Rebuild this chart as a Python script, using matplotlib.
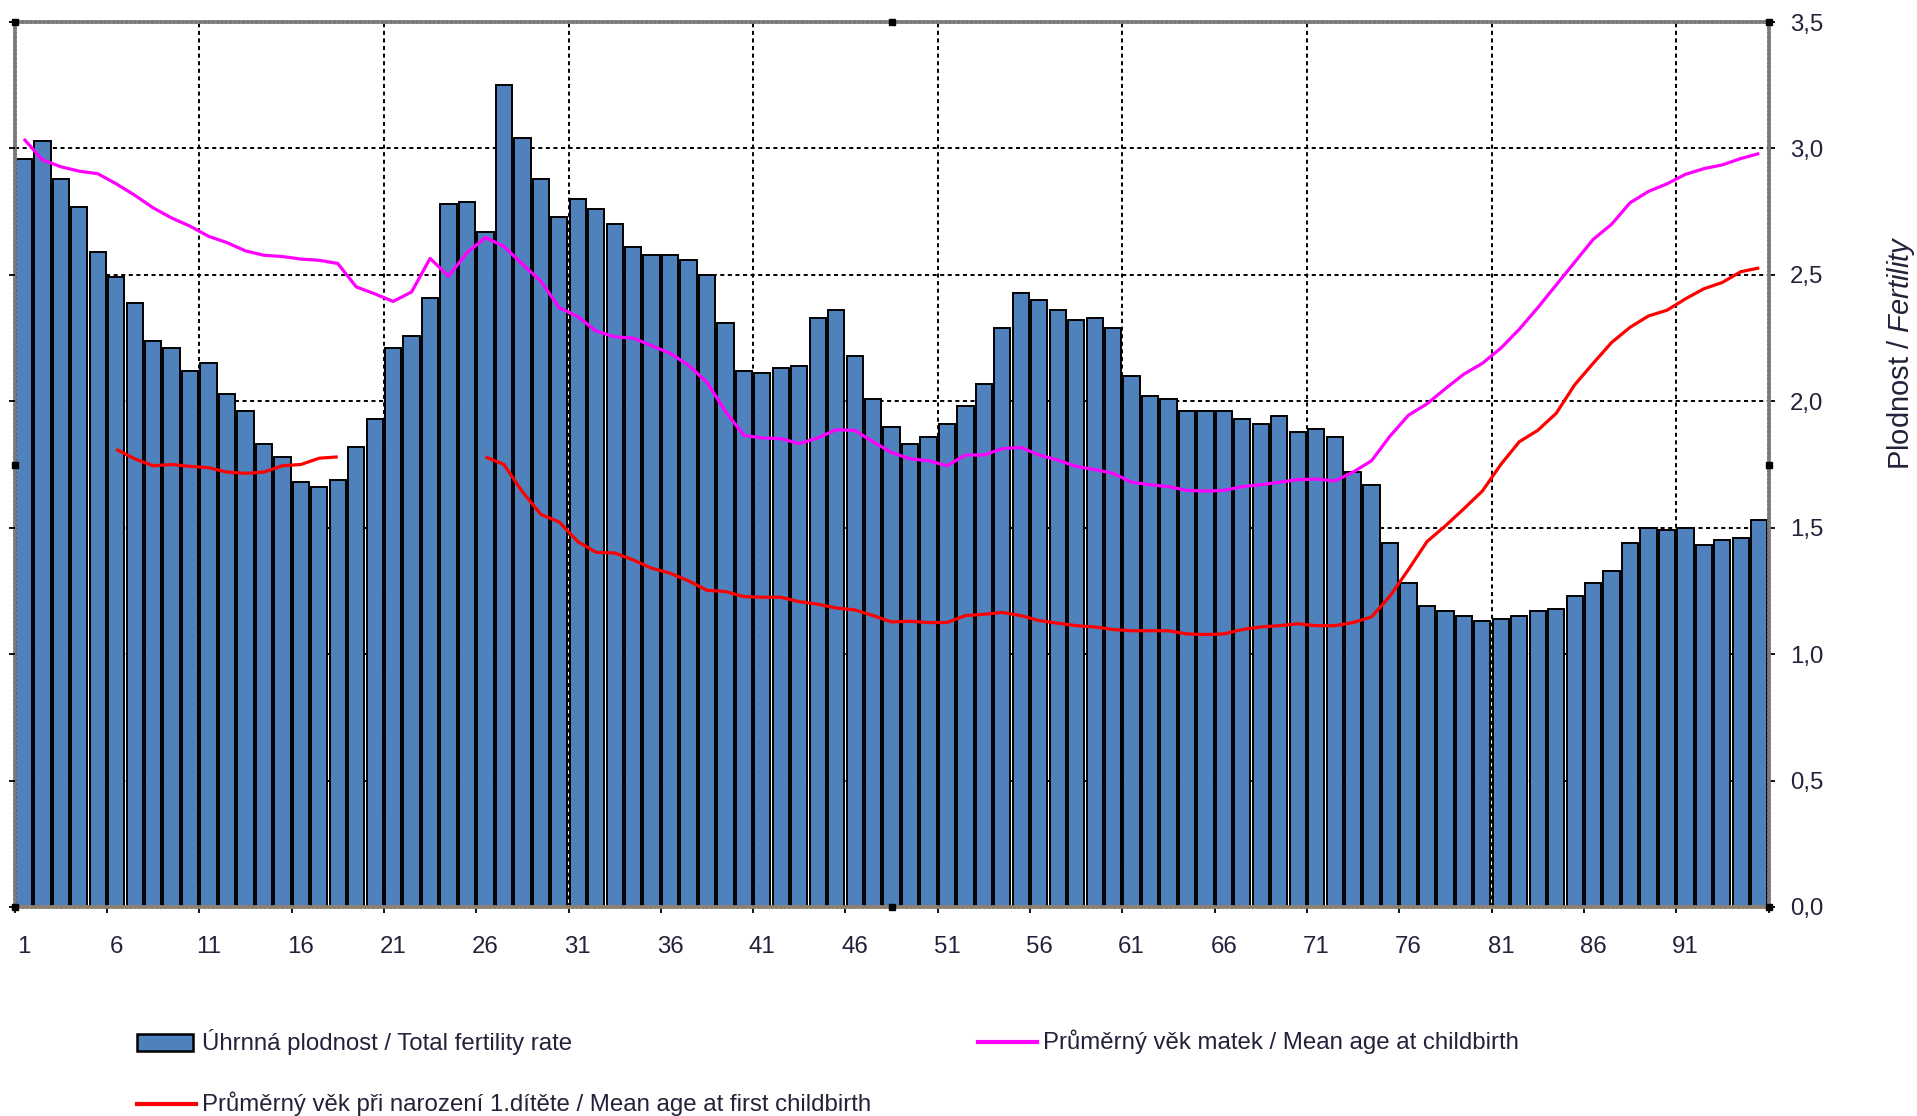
import matplotlib
matplotlib.use('Agg')
import matplotlib.pyplot as plt
import numpy as np
from matplotlib.patches import Rectangle
from matplotlib.lines import Line2D

plt.rcParams['font.family'] = ['Liberation Sans', 'DejaVu Sans']
plt.rcParams['mathtext.fontset'] = 'custom'
plt.rcParams['mathtext.rm'] = 'Liberation Sans'
plt.rcParams['mathtext.it'] = 'Liberation Sans:italic'

# ---------------- data ----------------
categories = list(range(1, 96))
x_tick_values = categories[::5]
x_tick_labels = [str(c) for c in x_tick_values]

fert_ticks = [0.0, 0.5, 1.0, 1.5, 2.0, 2.5, 3.0, 3.5]
fert_tick_labels = ['0,0', '0,5', '1,0', '1,5', '2,0', '2,5', '3,0', '3,5']
age_ticks = [18, 20, 22, 24, 26, 28, 30, 32]

tfr = [2.96, 3.03, 2.88, 2.77, 2.59, 2.49, 2.39, 2.24, 2.21, 2.12,
       2.15, 2.03, 1.96, 1.83, 1.78, 1.68, 1.66, 1.69, 1.82, 1.93,
       2.21, 2.26, 2.41, 2.78, 2.79, 2.67, 3.25, 3.04, 2.88, 2.73,
       2.80, 2.76, 2.70, 2.61, 2.58, 2.58, 2.56, 2.50, 2.31, 2.12,
       2.11, 2.13, 2.14, 2.33, 2.36, 2.18, 2.01, 1.90, 1.83, 1.86,
       1.91, 1.98, 2.07, 2.29, 2.43, 2.40, 2.36, 2.32, 2.33, 2.29,
       2.10, 2.02, 2.01, 1.96, 1.96, 1.96, 1.93, 1.91, 1.94, 1.88,
       1.89, 1.86, 1.72, 1.67, 1.44, 1.28, 1.19, 1.17, 1.15, 1.13,
       1.14, 1.15, 1.17, 1.18, 1.23, 1.28, 1.33, 1.44, 1.50, 1.49,
       1.50, 1.43, 1.45, 1.46, 1.53]

mean_age = [30.15, 29.82, 29.71, 29.64, 29.60, 29.44, 29.26, 29.06, 28.90, 28.77,
            28.61, 28.51, 28.38, 28.31, 28.29, 28.25, 28.23, 28.18, 27.81, 27.70,
            27.58, 27.73, 28.26, 27.98, 28.35, 28.59, 28.45, 28.17, 27.90, 27.48,
            27.34, 27.11, 27.02, 27.00, 26.88, 26.76, 26.57, 26.30, 25.84, 25.46,
            25.42, 25.41, 25.33, 25.42, 25.55, 25.54, 25.36, 25.19, 25.09, 25.06,
            24.98, 25.15, 25.15, 25.25, 25.27, 25.15, 25.07, 24.97, 24.92, 24.86,
            24.72, 24.68, 24.65, 24.59, 24.58, 24.59, 24.65, 24.68, 24.72, 24.76,
            24.77, 24.74, 24.88, 25.06, 25.45, 25.78, 25.96, 26.20, 26.43, 26.60,
            26.84, 27.14, 27.48, 27.84, 28.20, 28.56, 28.80, 29.14, 29.32, 29.44,
            29.59, 29.68, 29.74, 29.84, 29.92]

nan = float('nan')
mean_age_first = [nan, nan, nan, nan, nan, 25.24, 25.09, 24.98, 25.00, 24.97,
                  24.95, 24.88, 24.86, 24.88, 24.98, 25.00, 25.10, 25.12, nan, nan,
                  nan, nan, nan, nan, nan, 25.12, 25.00, 24.57, 24.21, 24.09,
                  23.78, 23.61, 23.60, 23.49, 23.36, 23.28, 23.16, 23.01, 22.99, 22.91,
                  22.90, 22.90, 22.83, 22.79, 22.73, 22.70, 22.61, 22.51, 22.52, 22.50,
                  22.50, 22.61, 22.63, 22.66, 22.61, 22.53, 22.49, 22.45, 22.43, 22.39,
                  22.37, 22.37, 22.37, 22.32, 22.31, 22.32, 22.39, 22.43, 22.45, 22.48,
                  22.45, 22.45, 22.50, 22.59, 22.92, 23.34, 23.78, 24.03, 24.30, 24.58,
                  25.00, 25.36, 25.54, 25.81, 26.26, 26.60, 26.93, 27.17, 27.35, 27.44,
                  27.62, 27.78, 27.88, 28.05, 28.11]

legend_labels = ['Úhrnná plodnost / Total fertility rate',
                 'Průměrný věk matek / Mean age at childbirth',
                 'Průměrný věk při narození 1.dítěte / Mean age at first childbirth']

# ---------------- styling ----------------
W, H = 1917, 1116
BAR_COLOR = '#4F81BD'
MAGENTA = '#FF00FF'
RED = '#FF0000'
TXT = '#22223A'
FS = 17.3

fig = plt.figure(figsize=(W / 100, H / 100), dpi=100)
fig.patch.set_facecolor('white')

ax_left, ax_right, ax_top, ax_bottom = 14.7, 1768.5, 22, 907
ax = fig.add_axes([ax_left / W, 1 - ax_bottom / H,
                   (ax_right - ax_left) / W, (ax_bottom - ax_top) / H])
# age axis (left, labels hidden) -- created first so it does not move the main ticks
ax2 = ax.twinx()

ax.bar(categories, tfr, width=0.88, color=BAR_COLOR, edgecolor='black',
       linewidth=1.4, zorder=1)
ax.set_xlim(categories[0] - 0.5, categories[-1] + 0.5)
ax.set_ylim(fert_ticks[0], fert_ticks[-1])

grid_ls = (0, (2.1, 1.8))
ax.set_axisbelow(True)
ax.set_yticks(fert_ticks)
ax.set_yticklabels(fert_tick_labels)
ax.yaxis.tick_right()
ax.yaxis.grid(True, color='black', linestyle=grid_ls, linewidth=1.4)
for c in categories[10::10]:
    ax.axvline(c - 0.5, color='black', linestyle=grid_ls, linewidth=1.4, zorder=0.5)

ax.set_xticks(x_tick_values)
ax.set_xticklabels(x_tick_labels)
ax.set_xticks([c - 0.5 for c in x_tick_values] + [categories[-1] + 0.5], minor=True)
ax.tick_params(axis='x', which='major', length=0, pad=21, labelsize=FS, labelcolor=TXT)
ax.tick_params(axis='x', which='minor', length=4.5, width=1.3, direction='out', color='black')
ax.tick_params(axis='y', which='major', right=True, left=False, labelright=True,
               labelleft=False, length=4.5, width=1.3,
               pad=11, labelsize=FS, labelcolor=TXT, color='black')

for name, s in ax.spines.items():
    s.set_linestyle((0, (0.6, 0.6)))
    s.set_linewidth(2.6)
    s.set_color('#7a7a7a' if name != 'bottom' else '#8d8070')

ax2.set_ylim(age_ticks[0], age_ticks[-1])
ax2.set_yticks(age_ticks)
ax2.yaxis.tick_left()
ax2.tick_params(axis='y', left=True, right=False, labelleft=False, labelright=False,
                length=4.5, width=1.3, color='black')
for s in ax2.spines.values():
    s.set_visible(False)
ax2.plot(categories, mean_age, color=MAGENTA, linewidth=2.3, solid_capstyle='butt')
ax2.plot(categories, mean_age_first, color=RED, linewidth=2.3, solid_capstyle='butt')

# selection handles of the plot area
ax2.plot([0, 0.5, 1, 0, 1, 0, 0.5, 1], [1, 1, 1, 0.5, 0.5, 0, 0, 0], linestyle='none',
         marker='s', markersize=5, markerfacecolor='black', markeredgecolor='black',
         transform=ax.transAxes, clip_on=False, zorder=6)

# y-axis title
fig.text(1901 / W, 1 - 353 / H, r'Plodnost / $\mathit{Fertility}$', rotation=90,
         ha='center', va='center', fontsize=21, color=TXT)

# ---------------- legend ----------------
def fy(y):
    return 1 - y / H

fig.patches.append(Rectangle((137 / W, fy(1051)), 56 / W, 17 / H, transform=fig.transFigure,
                             facecolor=BAR_COLOR, edgecolor='black', linewidth=1.8))
fig.text(202 / W, fy(1042), legend_labels[0], ha='left', va='center', fontsize=FS, color=TXT)

fig.lines.append(Line2D([978 / W, 1037 / W], [fy(1042), fy(1042)], transform=fig.transFigure,
                        color=MAGENTA, linewidth=3))
fig.text(1043 / W, fy(1042), legend_labels[1], ha='left', va='center', fontsize=FS, color=TXT)

fig.lines.append(Line2D([137 / W, 196 / W], [fy(1104), fy(1104)], transform=fig.transFigure,
                        color=RED, linewidth=3))
fig.text(202 / W, fy(1104), legend_labels[2], ha='left', va='center', fontsize=FS, color=TXT)

fig.savefig('out.png', dpi=100, facecolor='white')
